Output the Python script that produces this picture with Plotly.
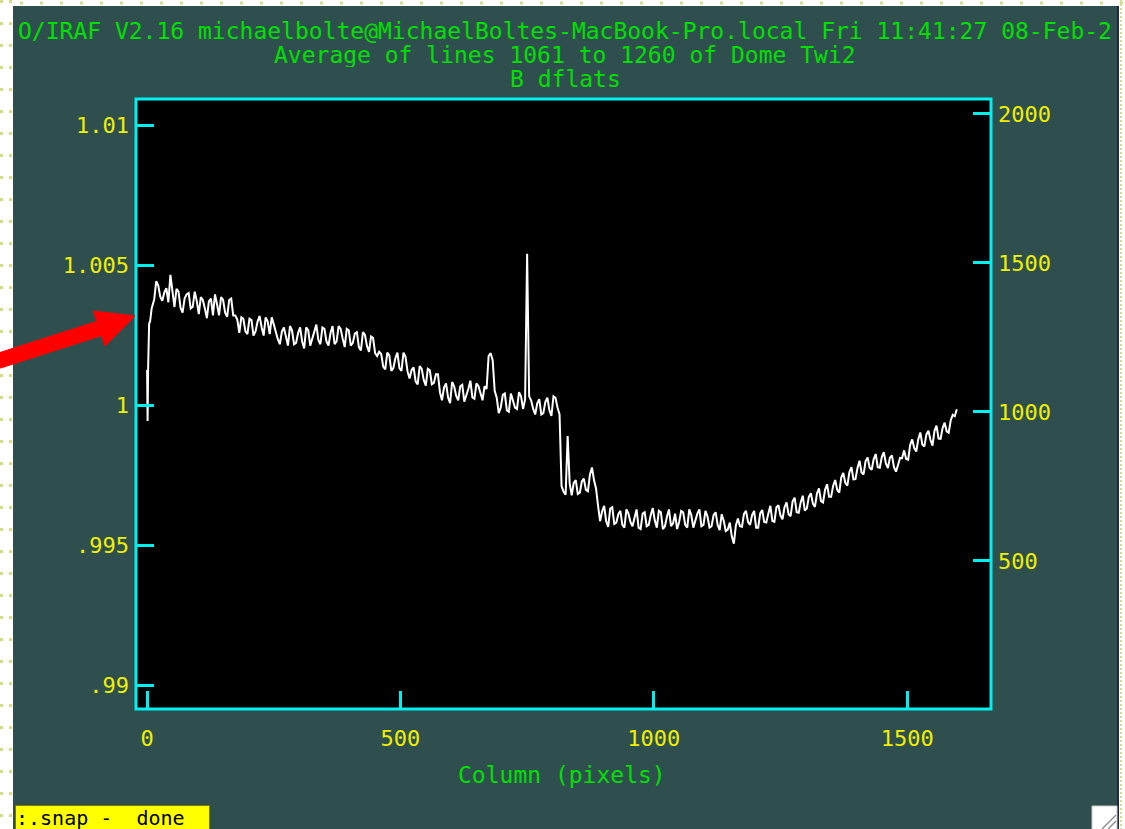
import plotly.graph_objects as go

# ---------------- data ----------------
start_cols = [0, 1, 2, 4, 6, 9]
start_vals = [1.00125, 0.99943, 1.00130, 1.00290, 1.00300, 1.00345]

# columns 14, 22, ... 1598
even_cols = list(range(14, 1599, 8))
even_vals = [
    1.00377, 1.00427, 1.00372, 1.00417, 1.00465, 1.00350, 1.00405, 1.00330, 1.00395, 1.00345,
    1.00405, 1.00325, 1.00375, 1.00310, 1.00380, 1.00395, 1.00320, 1.00375, 1.00315, 1.00380,
    1.00320, 1.00258, 1.00308, 1.00253, 1.00303, 1.00263, 1.00318, 1.00248, 1.00298, 1.00313,
    1.00258, 1.00217, 1.00277, 1.00212, 1.00267, 1.00222, 1.00277, 1.00202, 1.00267, 1.00237,
    1.00287, 1.00217, 1.00272, 1.00212, 1.00282, 1.00227, 1.00272, 1.00207, 1.00267, 1.00222,
    1.00260, 1.00195, 1.00250, 1.00190, 1.00240, 1.00175, 1.00182, 1.00127, 1.00177, 1.00132,
    1.00187, 1.00122, 1.00172, 1.00095, 1.00134, 1.00074, 1.00129, 1.00069, 1.00124, 1.00079,
    1.00110, 1.00017, 1.00077, 1.00007, 1.00067, 1.00017, 1.00072, 1.00032, 1.00087, 1.00022,
    1.00067, 1.00017, 1.00057, 1.00185, 1.00051, 0.99971, 1.00036, 0.99981, 1.00041, 0.99991,
    1.00046, 0.99986, 1.00540, 1.00016, 0.99966, 1.00021, 0.99971, 1.00026, 0.99961, 1.00026,
    0.99966, 0.99690, 0.99889, 0.99677, 0.99732, 0.99687, 0.99737, 0.99692, 0.99777, 0.99702,
    0.99585, 0.99640, 0.99565, 0.99635, 0.99580, 0.99622, 0.99562, 0.99612, 0.99567, 0.99627,
    0.99557, 0.99617, 0.99572, 0.99632, 0.99562, 0.99617, 0.99567, 0.99627, 0.99577, 0.99557,
    0.99622, 0.99572, 0.99627, 0.99562, 0.99612, 0.99567, 0.99622, 0.99562, 0.99607, 0.99572,
    0.99610, 0.99550, 0.99580, 0.99505, 0.99595, 0.99565, 0.99622, 0.99572, 0.99622, 0.99562,
    0.99625, 0.99580, 0.99640, 0.99583, 0.99642, 0.99592, 0.99652, 0.99603, 0.99669, 0.99615,
    0.99676, 0.99630, 0.99685, 0.99636, 0.99702, 0.99652, 0.99717, 0.99672, 0.99732, 0.99687,
    0.99757, 0.99712, 0.99778, 0.99735, 0.99801, 0.99752, 0.99813, 0.99769, 0.99825, 0.99776,
    0.99832, 0.99775, 0.99820, 0.99762, 0.99811, 0.99838, 0.99805, 0.99877, 0.99834, 0.99902,
    0.99852, 0.99908, 0.99855, 0.99926, 0.99879, 0.99937, 0.99901, 0.99965, 0.99985,
]

# columns 18, 26, ... 1594
odd_cols = list(range(18, 1595, 8))
odd_vals = [
    1.00442, 1.00387, 1.00402, 1.00367, 1.00410, 1.00415, 1.00347, 1.00380, 1.00400, 1.00350,
    1.00372, 1.00385, 1.00345, 1.00370, 1.00320, 1.00360, 1.00385, 1.00330, 1.00375, 1.00320,
    1.00305, 1.00313, 1.00263, 1.00308, 1.00248, 1.00298, 1.00278, 1.00313, 1.00253, 1.00288,
    1.00235, 1.00262, 1.00237, 1.00282, 1.00217, 1.00257, 1.00227, 1.00277, 1.00212, 1.00262,
    1.00232, 1.00277, 1.00227, 1.00257, 1.00217, 1.00282, 1.00237, 1.00272, 1.00212, 1.00255,
    1.00207, 1.00260, 1.00210, 1.00245, 1.00185, 1.00190, 1.00137, 1.00187, 1.00122, 1.00167,
    1.00132, 1.00187, 1.00120, 1.00125, 1.00084, 1.00139, 1.00089, 1.00129, 1.00074, 1.00110,
    1.00045, 1.00062, 1.00027, 1.00082, 1.00032, 1.00067, 1.00012, 1.00057, 1.00027, 1.00077,
    1.00037, 1.00067, 1.00175, 1.00160, 1.00026, 0.99991, 1.00041, 0.99976, 1.00016, 0.99986,
    1.00031, 1.00020, 1.00031, 0.99986, 1.00006, 0.99966, 1.00011, 0.99981, 1.00031, 0.99991,
    0.99710, 0.99680, 0.99720, 0.99722, 0.99682, 0.99727, 0.99697, 0.99752, 0.99732, 0.99640,
    0.99620, 0.99585, 0.99630, 0.99575, 0.99610, 0.99572, 0.99627, 0.99582, 0.99597, 0.99562,
    0.99612, 0.99567, 0.99607, 0.99587, 0.99622, 0.99557, 0.99602, 0.99567, 0.99612, 0.99582,
    0.99617, 0.99562, 0.99607, 0.99587, 0.99627, 0.99572, 0.99602, 0.99567, 0.99617, 0.99553,
    0.99587, 0.99555, 0.99530, 0.99570, 0.99567, 0.99611, 0.99582, 0.99607, 0.99562, 0.99613,
    0.99582, 0.99612, 0.99586, 0.99635, 0.99605, 0.99635, 0.99610, 0.99656, 0.99617, 0.99653,
    0.99623, 0.99672, 0.99648, 0.99684, 0.99657, 0.99697, 0.99672, 0.99712, 0.99697, 0.99742,
    0.99722, 0.99760, 0.99734, 0.99775, 0.99759, 0.99800, 0.99776, 0.99807, 0.99778, 0.99814,
    0.99791, 0.99812, 0.99778, 0.99786, 0.99810, 0.99807, 0.99858, 0.99846, 0.99878, 0.99859,
    0.99895, 0.99876, 0.99908, 0.99880, 0.99918, 0.99906, 0.99945, 0.99960,
]

pairs = sorted(list(zip(start_cols, start_vals)) + list(zip(even_cols, even_vals))
               + list(zip(odd_cols, odd_vals)))
columns = [c for c, _ in pairs]
values = [v for _, v in pairs]

x_ticks = [0, 500, 1000, 1500]
y_ticks = [0.99, 0.995, 1.0, 1.005, 1.01]
y_tick_text = [".99", ".995", "1", "1.005", "1.01"]
y2_ticks = [500, 1000, 1500, 2000]

title_lines = [
    "O/IRAF V2.16 michaelbolte@MichaelBoltes-MacBook-Pro.local Fri 11:41:27 08-Feb-2",
    "Average of lines 1061 to 1260 of Dome_Twi2",
    "B dflats",
]

# ---------------- style ----------------
W, H = 1125, 829
L, R, T, B = 136, 991, 99, 709
TEAL = "#2F4F4F"
CYAN = "#00F0F0"
YELLOW = "#F0F000"
GREEN = "#00E000"
FONT = "DejaVu Sans Mono"
DOT = "#D5DD85"


def px(x):
    return (x - L) / (R - L)


def py(y):
    return (B - y) / (B - T)


fig = go.Figure()
fig.add_trace(go.Scatter(x=columns, y=values, mode="lines",
                         line=dict(color="white", width=2),
                         hoverinfo="skip", showlegend=False))
fig.add_trace(go.Scatter(x=[], y=[], yaxis="y2", showlegend=False))

tick_common = dict(ticks="inside", ticklen=18, tickwidth=3, tickcolor=CYAN,
                   showgrid=False, zeroline=False, showline=False,
                   tickfont=dict(family=FONT, size=22, color=YELLOW))

fig.update_layout(
    width=W, height=H,
    margin=dict(l=L, r=W - R, t=T, b=H - B, pad=0),
    paper_bgcolor=TEAL, plot_bgcolor="black",
    showlegend=False,
    xaxis=dict(range=[-21.9, 1665.5], tickvals=x_ticks, ticklabelstandoff=14,
               **tick_common),
    yaxis=dict(range=[0.989143, 1.010929], tickvals=y_ticks, ticktext=y_tick_text,
               ticklabelstandoff=6, **tick_common),
    yaxis2=dict(range=[3.4, 2050], tickvals=y2_ticks, overlaying="y", side="right",
                ticklabelstandoff=6, **tick_common),
)

shapes = []
# frame
shapes.append(dict(type="rect", xref="paper", yref="paper", x0=0, x1=1, y0=0, y1=1,
                   line=dict(color=CYAN, width=3), layer="above"))
# window edges
shapes.append(dict(type="rect", xref="paper", yref="paper", x0=px(-10), x1=px(13),
                   y0=py(-10), y1=py(840), fillcolor="white", line=dict(width=0), layer="above"))
shapes.append(dict(type="rect", xref="paper", yref="paper", x0=px(-10), x1=px(1135),
                   y0=py(-10), y1=py(6), fillcolor="white", line=dict(width=0), layer="above"))
shapes.append(dict(type="rect", xref="paper", yref="paper", x0=px(1117), x1=px(1135),
                   y0=py(-10), y1=py(840), fillcolor="white", line=dict(width=0), layer="above"))
shapes.append(dict(type="line", xref="paper", yref="paper", x0=px(1118), x1=px(1118),
                   y0=py(6), y1=py(840), line=dict(color="#1E2A3C", width=2), layer="above"))
for xx in (1.5, 10.5):
    shapes.append(dict(type="line", xref="paper", yref="paper", x0=px(xx), x1=px(xx),
                       y0=py(0), y1=py(840), line=dict(color=DOT, width=3, dash="3px,19px"),
                       layer="above"))
shapes.append(dict(type="line", xref="paper", yref="paper", x0=px(20), x1=px(1125),
                   y0=py(3), y1=py(3), line=dict(color=DOT, width=3, dash="3px,17px"),
                   layer="above"))
shapes.append(dict(type="line", xref="paper", yref="paper", x0=px(1121), x1=px(1121),
                   y0=py(0), y1=py(840), line=dict(color=DOT, width=2, dash="2px,2px"),
                   layer="above"))
# resize grip
shapes.append(dict(type="rect", xref="paper", yref="paper", x0=px(1092), x1=px(1117),
                   y0=py(806), y1=py(835), fillcolor="white", line=dict(color="#C8C8C8", width=1),
                   layer="above"))
for d in (8, 14):
    shapes.append(dict(type="line", xref="paper", yref="paper", x0=px(1116 - d), x1=px(1116),
                       y0=py(829), y1=py(829 - d), line=dict(color="#909090", width=1.5),
                       layer="above"))
# red arrow polygon
arrow_pts = [(-4.4, 353.9), (96.7, 321.4), (93.3, 311.0), (135, 316),
             (104.9, 346.1), (101.5, 335.6), (0.4, 368.1)]
path = "M " + " L ".join(f"{px(a):.5f},{py(b):.5f}" for a, b in arrow_pts) + " Z"
shapes.append(dict(type="path", xref="paper", yref="paper", path=path,
                   fillcolor="#FF0000", line=dict(color="#FF0000", width=1), layer="above"))
fig.update_layout(shapes=shapes)

annotations = []
for text, yy in zip(title_lines, (30.5, 54.5, 79.5)):
    annotations.append(dict(text=text, xref="paper", yref="paper", x=px(565), y=py(yy),
                            xanchor="center", yanchor="middle", showarrow=False,
                            height=24, valign="middle",
                            font=dict(family=FONT, size=23, color=GREEN)))
annotations.append(dict(text="Column (pixels)", xref="paper", yref="paper", x=px(562), y=py(775),
                        xanchor="center", yanchor="middle", showarrow=False,
                        font=dict(family=FONT, size=23, color=GREEN)))
annotations.append(dict(text=":.snap -\u00a0 done", xref="paper", yref="paper", x=px(15), y=py(805),
                        xanchor="left", yanchor="top", showarrow=False,
                        width=193, height=23, valign="middle", align="left",
                        bgcolor="#FFFF00", bordercolor="#7A7A00", borderwidth=1, borderpad=0,
                        font=dict(family=FONT, size=20, color="black")))
fig.update_layout(annotations=annotations)

fig.write_html("out.html", config={"displayModeBar": False},
               post_script="document.body.style.margin='0px';")
